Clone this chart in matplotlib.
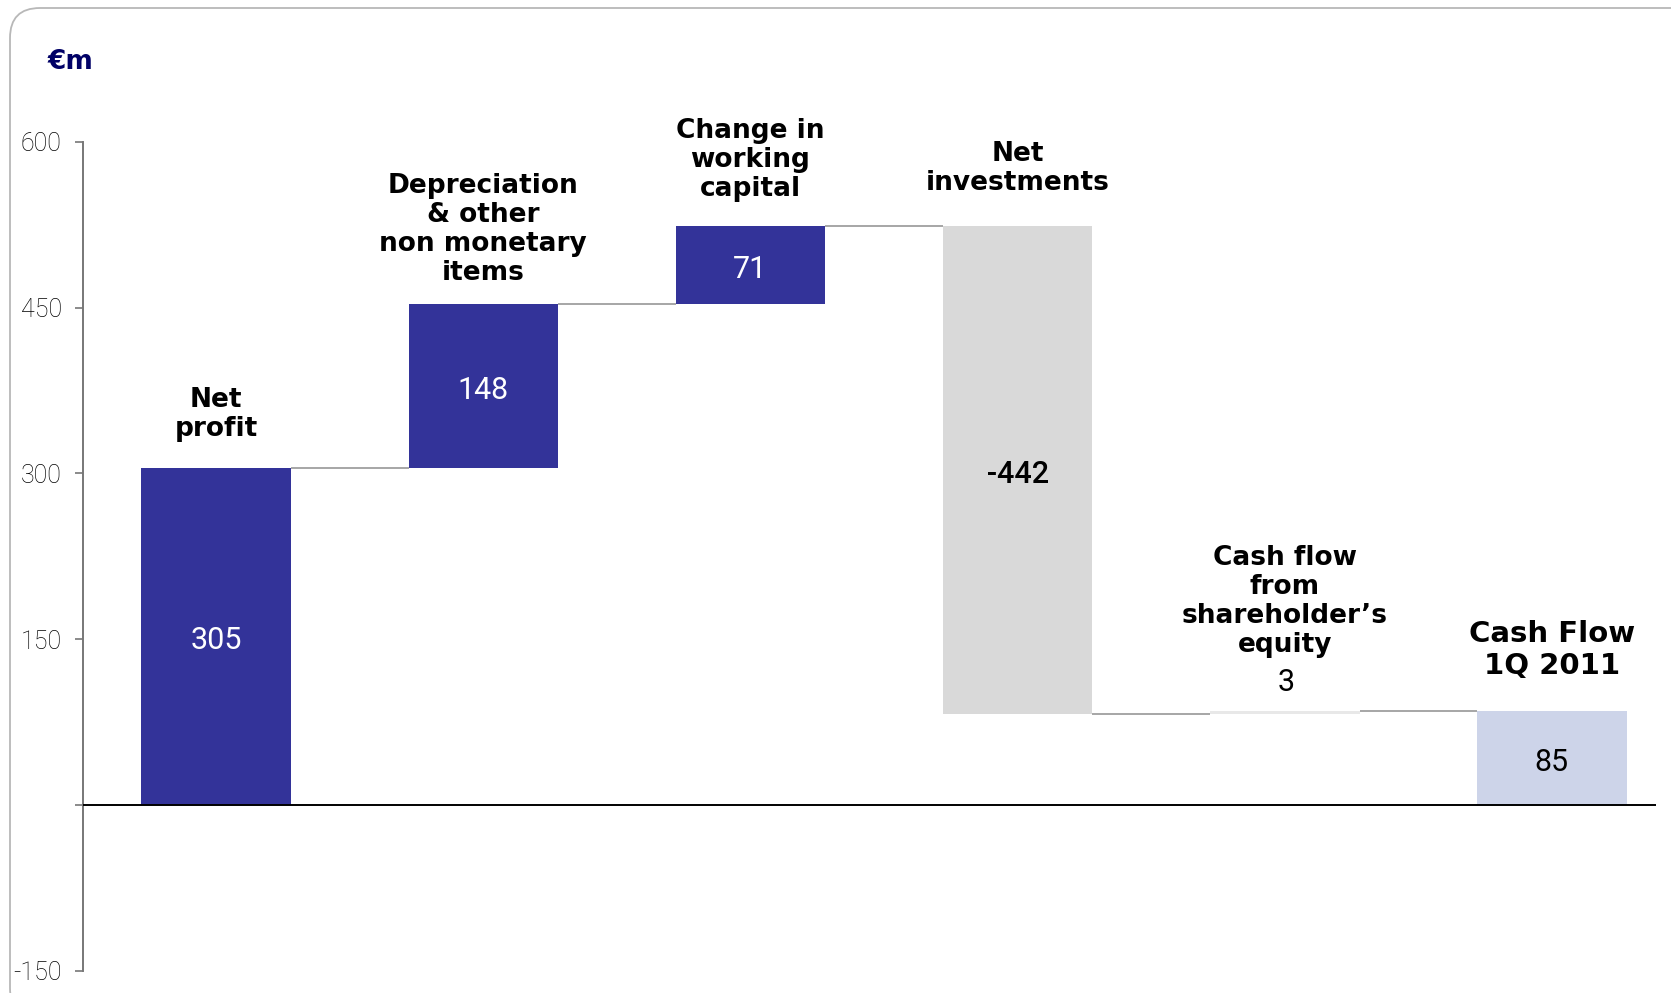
import numpy as np
import matplotlib
matplotlib.use('Agg')
import matplotlib.pyplot as plt
from matplotlib.patches import FancyBboxPatch

# data
categories = ['Net\nprofit',
              'Depreciation\n& other\nnon monetary\nitems',
              'Change in\nworking\ncapital',
              'Net\ninvestments',
              'Cash flow\nfrom\nshareholder\u2019s\nequity',
              'Cash Flow\n1Q 2011']
values = [305, 148, 71, -442, 3, 85]
is_total = [False, False, False, False, False, True]
value_labels = ['305', '148', '71', '-442', '3', '85']
yticks = [600, 450, 300, 150, 0, -150]
ytick_labels = ['600', '450', '300', '150', '', '-150']

bar_colors = ['#333399', '#333399', '#333399', '#d9d9d9', '#e8e8e8', '#cdd4e9']
label_colors = ['white', 'white', 'white', 'black', 'black', 'black']
# label offsets above bar tops (points)
cat_offsets = [18.5, 13, 17, 21.5, 38, 22.5]

W, H = 1671, 993
fig = plt.figure(figsize=(W / 100, H / 100), dpi=100)

# rounded frame behind everything
bg = fig.add_axes([0, 0, 1, 1], zorder=0)
bg.set_xlim(0, W)
bg.set_ylim(H, 0)
bg.axis('off')
bg.add_patch(FancyBboxPatch((10, 8), 1700, 1010,
                            boxstyle='round,pad=0,rounding_size=30',
                            fc='white', ec='#b8b8b8', lw=1.3))

ax = fig.add_axes([82.7 / W, 22.3 / H, 1573.3 / W, 829 / H], zorder=1)
ax.patch.set_alpha(0)

# waterfall geometry
x = np.arange(len(values))
bottoms, heights, levels = [], [], []
running = 0
for v, tot in zip(values, is_total):
    if tot:
        bottoms.append(0)
        heights.append(v)
        running = v
    else:
        bottoms.append(running if v >= 0 else running + v)
        heights.append(abs(v))
        running += v
    levels.append(running)

width = 0.56
ax.bar(x, heights, bottom=bottoms, width=width, color=bar_colors, zorder=2)

# connectors
for i in range(len(values) - 1):
    ax.plot([x[i] + width / 2, x[i + 1] - width / 2], [levels[i], levels[i]],
            color='#a6a6a6', lw=1.4, zorder=1, solid_capstyle='butt')

ax.axhline(0, color='black', lw=1.4, zorder=3)

# value labels
for i in range(len(values)):
    top = bottoms[i] + heights[i]
    if heights[i] < 20:
        ax.annotate(value_labels[i], (x[i], top), xytext=(1, 10),
                    textcoords='offset points', ha='center', va='bottom',
                    fontsize=22, family='Roboto', color=label_colors[i])
    else:
        ax.annotate(value_labels[i], (x[i], bottoms[i] + heights[i] / 2),
                    xytext=(0, -3), textcoords='offset points',
                    ha='center', va='center', fontsize=22, family='Roboto',
                    color=label_colors[i],
                    fontweight='medium' if values[i] < 0 else 'normal')

# category labels
for i, cat in enumerate(categories):
    top = bottoms[i] + heights[i]
    fs = 21 if is_total[i] else 19
    ax.annotate(cat, (x[i], top), xytext=(0, cat_offsets[i]),
                textcoords='offset points', ha='center', va='bottom',
                fontsize=fs, fontweight='bold', family='DejaVu Sans',
                linespacing=1.15, color='black')

ax.set_xlim(-0.5, 5.39)
ax.set_ylim(-150, 600)
ax.set_xticks([])
ax.set_yticks(yticks)
ax.set_yticklabels(ytick_labels, family='Roboto', fontweight='light',
                   fontsize=18, color='black')
ax.tick_params(axis='y', length=6, width=1.2, color='#777777', pad=9)
for s in ['top', 'right', 'bottom']:
    ax.spines[s].set_visible(False)
ax.spines['left'].set_color('#777777')
ax.spines['left'].set_linewidth(1.4)

fig.text(48 / W, 1 - 62 / H, '\u20acm', ha='left', va='center',
         fontsize=19, fontweight='bold', color='#000066', family='DejaVu Sans')

fig.savefig('out.png', dpi=100)
